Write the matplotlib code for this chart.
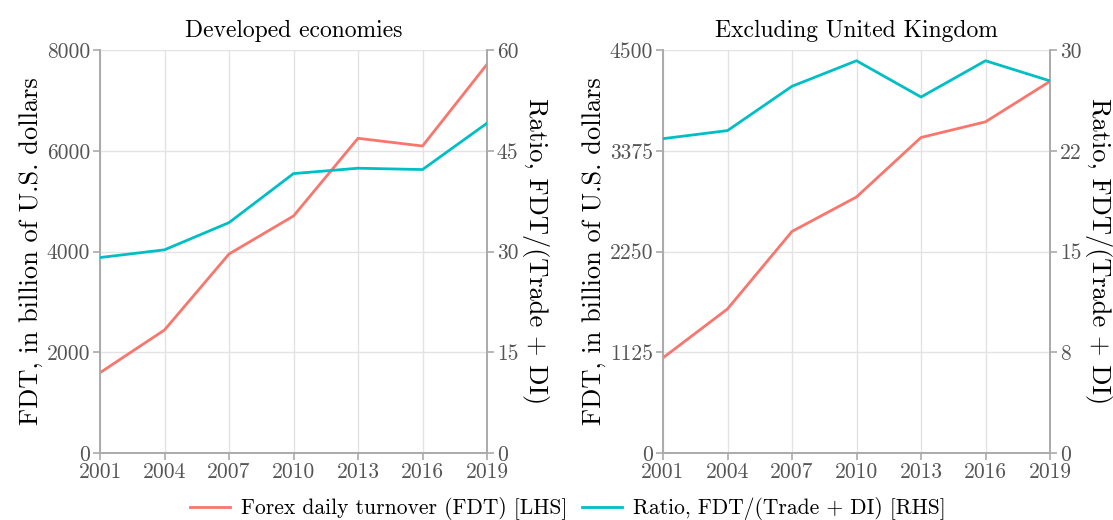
import matplotlib
matplotlib.use('Agg')
import matplotlib.pyplot as plt
from matplotlib.lines import Line2D

plt.rcParams['font.family'] = ['cmr10', 'DejaVu Serif']
plt.rcParams['axes.formatter.use_mathtext'] = True

years = [2001, 2004, 2007, 2010, 2013, 2016, 2019]

dev_fdt = [1594, 2442, 3950, 4705, 6247, 6094, 7716]
dev_ratio = [29.1, 30.25, 34.3, 41.6, 42.4, 42.2, 49.1]

exuk_fdt = [1063, 1609, 2474, 2859, 3523, 3698, 4150]
exuk_ratio = [23.4, 24.0, 27.3, 29.2, 26.5, 29.2, 27.7]

titles = ['Developed economies', 'Excluding United Kingdom']
lhs_ticks = [[0, 2000, 4000, 6000, 8000], [0, 1125, 2250, 3375, 4500]]
rhs_ticks = [[0, 15, 30, 45, 60], [0, 7.5, 15, 22.5, 30]]
rhs_labels = [['0', '15', '30', '45', '60'], ['0', '8', '15', '22', '30']]

red = '#F8766D'
cyan = '#00BFC4'
spine_c = '#aaaaaa'
grid_c = '#e3e3e3'
tick_c = '#555555'

fig = plt.figure(figsize=(11.13, 5.2), dpi=100)
lefts = [100 / 1113, 663 / 1113]
data = [(dev_fdt, dev_ratio), (exuk_fdt, exuk_ratio)]

for i in range(2):
    ax = fig.add_axes([lefts[i], 67 / 520, 387 / 1113, 403 / 520])
    fdt, ratio = data[i]
    ax.plot(years, fdt, color=red, lw=2, zorder=3)
    ax.set_xlim(2001, 2019)
    ax.set_ylim(0, lhs_ticks[i][-1])
    ax.set_xticks(years)
    ax.set_xticklabels([str(y) for y in years])
    ax.set_yticks(lhs_ticks[i])
    ax.set_yticklabels([str(t) for t in lhs_ticks[i]])
    ax.grid(True, color=grid_c, lw=1)
    ax.set_axisbelow(True)
    ax.set_title(titles[i], fontsize=17, pad=9)
    ax.set_ylabel('FDT, in billion of U.S. dollars', fontsize=19, labelpad=3)

    ax2 = ax.twinx()
    ax2.plot(years, ratio, color=cyan, lw=2, zorder=3)
    ax2.set_ylim(0, rhs_ticks[i][-1])
    ax2.set_yticks(rhs_ticks[i])
    ax2.set_yticklabels(rhs_labels[i])
    ax2.set_ylabel('Ratio, FDT/(Trade + DI)', fontsize=19, rotation=-90,
                   labelpad=22)

    for a in (ax, ax2):
        for s in a.spines.values():
            s.set_color(spine_c)
            s.set_linewidth(1.2)
        a.tick_params(colors=spine_c, labelcolor=tick_c, labelsize=15.5,
                      length=5, width=1.2, pad=2)
    ax.spines['top'].set_visible(False)
    ax2.spines['top'].set_visible(False)

handles = [Line2D([], [], color=red, lw=2), Line2D([], [], color=cyan, lw=2)]
fig.legend(handles, ['Forex daily turnover (FDT) [LHS]',
                     'Ratio, FDT/(Trade + DI) [RHS]'],
           loc='center', bbox_to_anchor=(0.51, 0.022), ncol=2, frameon=False,
           fontsize=15.5, handlelength=1.85, handletextpad=0.5,
           columnspacing=0.7)

fig.savefig('out.png', dpi=100)
